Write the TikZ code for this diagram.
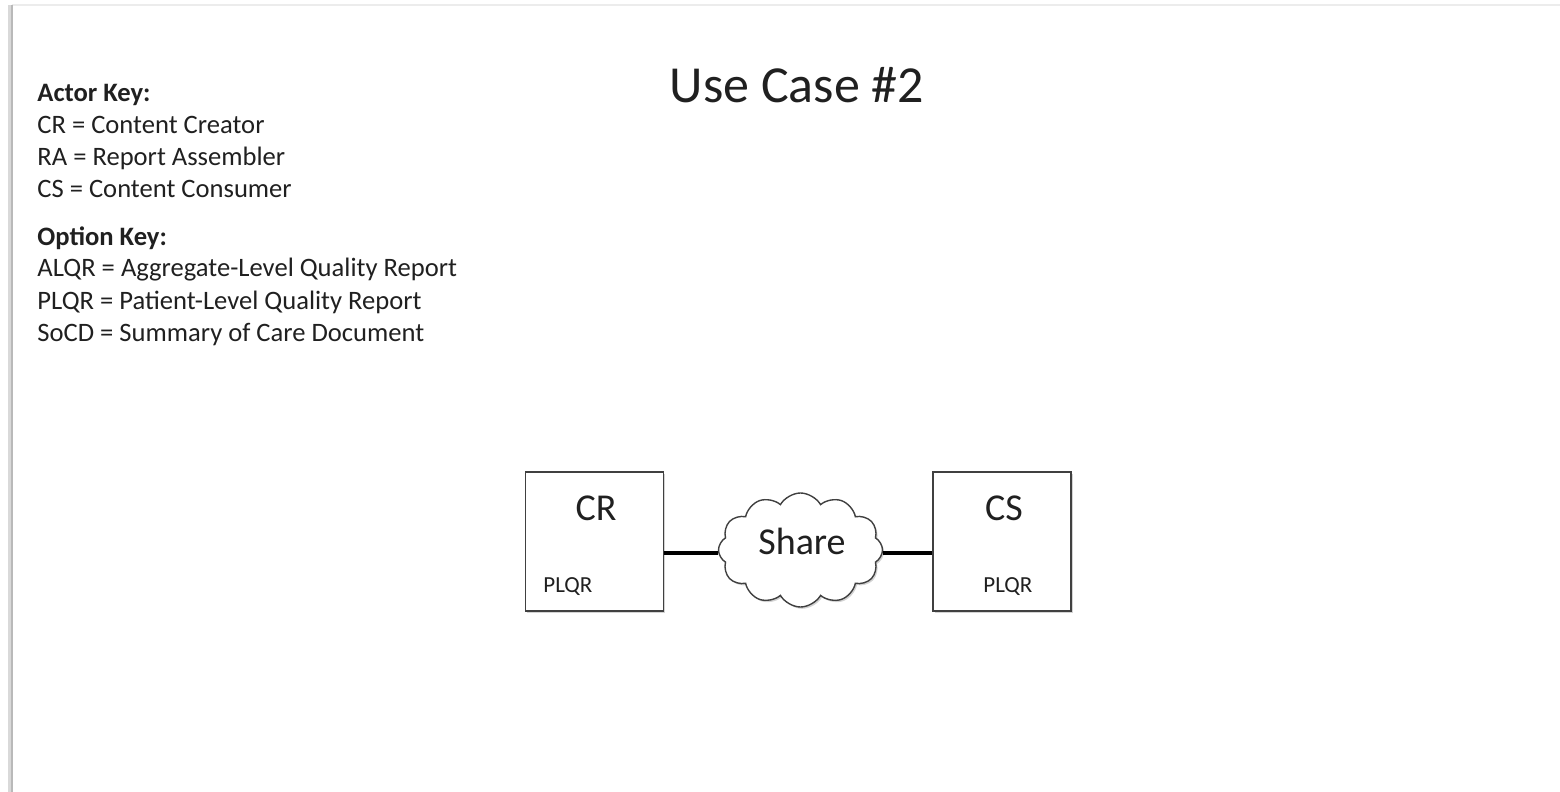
\documentclass[tikz,border=0pt]{standalone}
\usepackage{fontspec}
\setmainfont{Carlito}
\usetikzlibrary{shapes.symbols,shadows}

\definecolor{ink}{HTML}{202020}
\definecolor{edge}{HTML}{404040}

\tikzset{
  soft shadow/.style={drop shadow={shadow xshift=0.8pt, shadow yshift=-0.9pt, opacity=0.35}},
  actor/.style={draw=edge, line width=0.7pt, fill=white, inner sep=0pt,
    minimum width=69pt, minimum height=69.5pt, soft shadow},
  keyhead/.style={anchor=base west, inner sep=0pt, text=ink, font=\fontsize{13.3}{16}\selectfont\bfseries},
  keyline/.style={anchor=base west, inner sep=0pt, text=ink, font=\fontsize{13.3}{16}\selectfont},
  actorname/.style={anchor=base, inner sep=0pt, text=ink, font=\fontsize{19}{22}\selectfont},
  option/.style={anchor=base west, inner sep=0pt, text=ink, font=\fontsize{11.5}{14}\selectfont},
  link/.style={line width=1.9pt, draw=black},
}

\begin{document}
\begin{tikzpicture}[x=0.5pt, y=-0.5pt]
  \useasboundingbox (0,0) rectangle (1560,792);

  % page edges
  \draw[gray!15, line width=1pt] (12,5) -- (1560,5);
  \draw[gray!30, line width=2pt] (10,5) -- (10,792);
  \draw[gray!55, line width=0.8pt] (12,5) -- (12,792);

  \node[anchor=base, inner sep=0pt, text=ink, font=\fontsize{26}{30}\selectfont] (title) at (797,103) {Use Case \#2};

  % keys
  \node[keyhead] (actorkey) at (37,102) {Actor Key:};
  \foreach \txt [count=\i] in {CR = Content Creator, RA = Report Assembler, CS = Content Consumer}
    \node[keyline] (actor\i) at (37,{102+32*\i}) {\txt};

  \node[keyhead] (optionkey) at (37,245) {Option Key:};
  \foreach \txt [count=\i] in {ALQR = Aggregate-Level Quality Report, PLQR = Patient-Level Quality Report, SoCD = Summary of Care Document}
    \node[keyline] (option\i) at (37,{245+32*\i}) {\txt};

  % actors
  \node[actor] (cr) at (594.5,541.5) {};
  \node[actor] (cs) at (1002,541.5) {};
  \node[actorname] (crname) at (596,520) {CR};
  \node[option] (cropt) at (543,592) {PLQR};
  \node[actorname] (csname) at (1004,520) {CS};
  \node[option] (csopt) at (983,592) {PLQR};

  % transaction cloud
  \node[cloud, draw=edge, line width=0.7pt, fill=white, cloud puffs=12, cloud puff arc=120,
    cloud ignores aspect, minimum width=82pt, minimum height=57pt, inner sep=0pt, soft shadow] (share) at (800.5,550) {};
  \node[actorname] (sharename) at (802,554) {Share};

  \draw[link] (cr.east |- 0,553) -- (share.west |- 0,553);
  \draw[link] (share.east |- 0,553) -- (cs.west |- 0,553);
\end{tikzpicture}
\end{document}
